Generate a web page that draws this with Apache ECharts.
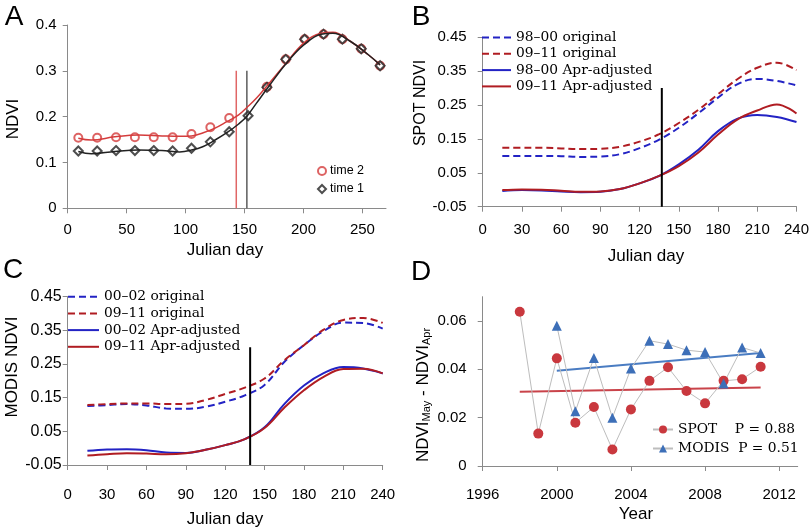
<!DOCTYPE html>
<html><head><meta charset="utf-8">
<script src="https://cdn.jsdelivr.net/npm/echarts@6/dist/echarts.min.js"></script>
<style>html,body{margin:0;padding:0;background:#fff}#c{width:812px;height:532px}</style>
</head><body><div id="c"></div>
<script>
// ---------- Panel A ----------
const aDays2 = [9,25,41,57,73,89,105,121,137,169,185,201,217,233,249,265];
const aTime2 = [0.154,0.154,0.155,0.155,0.155,0.155,0.162,0.177,0.197,0.265,0.325,0.369,0.380,0.369,0.348,0.311];
const aDays1 = [9,25,41,57,73,89,105,121,137,153,169,185,201,217,233,249,265];
const aTime1 = [0.125,0.125,0.126,0.126,0.126,0.125,0.131,0.145,0.167,0.202,0.264,0.325,0.369,0.380,0.369,0.348,0.311];
const aFitDays = [9,20,40,60,80,95,105,115,125,135,145,152,160,170,185,200,215,225,240,255,265];
const aFit2 = [0.153,0.149,0.156,0.160,0.158,0.157,0.158,0.165,0.175,0.189,0.204,0.220,0.240,0.270,0.316,0.360,0.382,0.384,0.364,0.335,0.313];
const aFit1 = [0.124,0.119,0.124,0.127,0.126,0.123,0.127,0.135,0.149,0.165,0.184,0.201,0.229,0.264,0.315,0.356,0.380,0.382,0.364,0.335,0.313];
const aVDay2 = 143, aVDay1 = 152, aVTop = 0.3;
const aXTicks = [0,50,100,150,200,250];
const aYTicks = [0,0.1,0.2,0.3,0.4];

// ---------- Panel B (SPOT) ----------
const bDays = [15,30,45,60,75,90,105,120,135,150,165,180,195,210,225,240];
const bOrig9800 = [0.100,0.100,0.100,0.099,0.097,0.098,0.105,0.123,0.148,0.183,0.226,0.272,0.312,0.327,0.321,0.308];
const bOrig0911 = [0.124,0.124,0.124,0.122,0.120,0.121,0.127,0.142,0.164,0.197,0.236,0.282,0.327,0.360,0.375,0.353];
const bAdj9800 = [-0.004,-0.001,-0.002,-0.005,-0.007,-0.006,0.002,0.019,0.041,0.075,0.118,0.173,0.210,0.221,0.215,0.200];
const bAdj0911 = [-0.001,0.001,0.000,-0.003,-0.006,-0.005,0.002,0.019,0.041,0.070,0.110,0.163,0.208,0.234,0.252,0.225];
const bVDay = 137, bVTop = 0.30;

// ---------- Panel C (MODIS) ----------
const cDays = [15,30,45,60,75,90,105,120,135,150,165,180,195,210,225,240];
const cOrig0002 = [0.125,0.128,0.131,0.127,0.118,0.117,0.123,0.138,0.157,0.188,0.256,0.306,0.348,0.373,0.372,0.355];
const cOrig0911 = [0.128,0.131,0.133,0.133,0.131,0.132,0.143,0.161,0.180,0.207,0.261,0.306,0.352,0.381,0.387,0.372];
const cAdj0002 = [-0.008,-0.004,-0.003,-0.006,-0.013,-0.014,-0.005,0.009,0.027,0.062,0.131,0.186,0.223,0.241,0.237,0.222];
const cAdj0911 = [-0.022,-0.018,-0.015,-0.016,-0.018,-0.015,-0.005,0.009,0.027,0.060,0.120,0.172,0.212,0.235,0.236,0.222];
const cVDay = 139, cVTop = 0.30;
const dayTicks = [0,30,60,90,120,150,180,210,240];
const ndviTicks = [-0.05,0.05,0.15,0.25,0.35,0.45];

// ---------- Panel D ----------
const spotYears = [1998,1999,2000,2001,2002,2003,2004,2005,2006,2007,2008,2009,2010,2011];
const spotDiff = [0.0638,0.0134,0.0445,0.0179,0.0244,0.0068,0.0234,0.0352,0.0408,0.0310,0.0259,0.0352,0.0359,0.0410];
const modisYears = [2000,2001,2002,2003,2004,2005,2006,2007,2008,2009,2010,2011];
const modisDiff = [0.0580,0.0226,0.0447,0.0200,0.0403,0.0518,0.0504,0.0479,0.0471,0.0341,0.0490,0.0467];
const spotTrend = [[1998,0.0307],[2011,0.0325]];
const modisTrend = [[2000,0.0394],[2011,0.0467]];
const spotP = 'P = 0.88', modisP = 'P = 0.51';
const yearTicks = [1996,2000,2004,2008,2012];
const diffTicks = [0,0.02,0.04,0.06];

// ---------- helpers ----------
const pair = (xs, ys) => xs.map((x, i) => [x, ys[i]]);
const FONT = 'Liberation Sans';
const SERIF = 'DejaVu Serif';
const AX = {color:'#8a8a8a', width:1};

function mkX(gridIndex, min, max, ticks, margin, fmt) {
  return {type:'value', gridIndex, min, max,
    axisLine:{show:true, onZero:false, lineStyle:AX},
    axisTick:{show:true, inside:false, length:5, customValues:ticks, lineStyle:AX},
    axisLabel:{customValues:ticks, margin, fontFamily:FONT, fontSize:15, color:'#000', formatter:fmt},
    splitLine:{show:false}};
}
function mkY(gridIndex, min, max, ticks, margin, fmt, fs) {
  return {type:'value', gridIndex, min, max,
    axisLine:{show:true, onZero:false, lineStyle:AX},
    axisTick:{show:true, inside:false, length:5, customValues:ticks, lineStyle:AX},
    axisLabel:{customValues:ticks, margin, fontFamily:FONT, fontSize:fs || 15, color:'#000', formatter:fmt},
    splitLine:{show:false}};
}
const f2 = v => v.toFixed(2);
const fA = v => (v === 0 ? '0' : v.toFixed(1));
const fD = v => (v === 0 ? '0' : v.toFixed(2));
const fInt = v => String(Math.round(v));

function curve(name, gi, xs, ys, color, dashed, width) {
  return {type:'line', name, xAxisIndex:gi, yAxisIndex:gi, data:pair(xs, ys),
    smooth:0.4, symbol:'none', silent:true,
    lineStyle:{color, width:width || 2, type: dashed ? [7,4] : 'solid'},
    itemStyle:{color}};
}
function vline(gi, x, y0, y1, color, width) {
  return {type:'line', xAxisIndex:gi, yAxisIndex:gi, data:[[x,y0],[x,y1]],
    symbol:'none', silent:true, lineStyle:{color, width}};
}

const BLUE = '#2323c4', RED = '#b01c22';
const txt = (x, y, text, fs, rot, extra) => ({type:'text', x, y, rotation: rot || 0,
  style:Object.assign({text, fontFamily:FONT, fontSize:fs, fill:'#000', align:'center', verticalAlign:'middle'}, extra || {})});

const option = {
  animation:false,
  backgroundColor:'#fff',
  grid:[
    {left:67.7, top:25, width:318.3, height:183.3},
    {left:482.7, top:37.3, width:315, height:169.4},
    {left:67.7, top:296.7, width:315, height:168.3},
    {left:482.7, top:296.7, width:315, height:169.3}
  ],
  xAxis:[
    mkX(0, 0, 270, aXTicks, 14, fInt),
    mkX(1, 0, 240, dayTicks, 16, fInt),
    mkX(2, 0, 240, dayTicks, 22, fInt),
    mkX(3, 1996, 2013, yearTicks, 21, fInt)
  ],
  yAxis:[
    mkY(0, 0, 0.4, aYTicks, 11, fA),
    mkY(1, -0.05, 0.45, ndviTicks, 16, f2),
    mkY(2, -0.05, 0.45, ndviTicks, 6, f2, 16),
    mkY(3, 0, 0.07, diffTicks, 16, fD)
  ],
  legend:[
    {left:317, top:164, orient:'vertical', padding:0, itemGap:4, itemWidth:8, itemHeight:8,
     data:['time 2','time 1'], selectedMode:false,
     textStyle:{fontFamily:FONT, fontSize:12.5, color:'#000', padding:[0,0,0,-1], lineHeight:14}},
    {left:481, top:29.5, orient:'vertical', padding:0, itemGap:0.3, itemWidth:29, itemHeight:12,
     itemStyle:{opacity:0},
     data:['98–00 original','09–11 original','98–00 Apr-adjusted','09–11 Apr-adjusted'], selectedMode:false,
     textStyle:{fontFamily:SERIF, fontSize:13.8, color:'#000', lineHeight:16}},
    {left:67, top:288.7, orient:'vertical', padding:0, itemGap:0.7, itemWidth:31, itemHeight:12,
     itemStyle:{opacity:0},
     data:['00–02 original','09–11 original','00–02 Apr-adjusted','09–11 Apr-adjusted'], selectedMode:false,
     textStyle:{fontFamily:SERIF, fontSize:13.8, color:'#000', lineHeight:16}},
    {left:652, top:421.5, orient:'vertical', padding:0, itemGap:3, itemWidth:20, itemHeight:10,
     data:['SPOT','MODIS'], selectedMode:false,
     formatter: n => n === 'SPOT' ? 'SPOT    ' + spotP : 'MODIS  ' + modisP,
     textStyle:{fontFamily:SERIF, fontSize:13.8, color:'#000', lineHeight:16}}
  ],
  series:[
    // A
    vline(0, aVDay2, 0, aVTop, '#e06666', 1.5),
    vline(0, aVDay1, 0, aVTop, '#333', 1.2),
    curve('time 2 fit', 0, aFitDays, aFit2, '#d43c3c', false, 1.5),
    curve('time 1 fit', 0, aFitDays, aFit1, '#222', false, 1.5),
    {type:'scatter', name:'time 2', xAxisIndex:0, yAxisIndex:0, data:pair(aDays2, aTime2),
     symbol:'emptyCircle', symbolSize:8, itemStyle:{color:'#d43c3c', borderColor:'#d43c3c', borderWidth:1.3}},
    {type:'scatter', name:'time 1', xAxisIndex:0, yAxisIndex:0, data:pair(aDays1, aTime1),
     symbol:'emptyDiamond', symbolSize:9, itemStyle:{color:'#222', borderColor:'#222', borderWidth:1.2}},
    // B
    curve('98–00 original', 1, bDays, bOrig9800, BLUE, true),
    curve('09–11 original', 1, bDays, bOrig0911, RED, true),
    curve('98–00 Apr-adjusted', 1, bDays, bAdj9800, BLUE, false),
    curve('09–11 Apr-adjusted', 1, bDays, bAdj0911, RED, false),
    vline(1, bVDay, -0.05, bVTop, '#000', 2),
    // C
    curve('00–02 original', 2, cDays, cOrig0002, BLUE, true),
    curve('09–11 original', 2, cDays, cOrig0911, RED, true),
    curve('00–02 Apr-adjusted', 2, cDays, cAdj0002, BLUE, false),
    curve('09–11 Apr-adjusted', 2, cDays, cAdj0911, RED, false),
    vline(2, cVDay, -0.05, cVTop, '#000', 2),
    // D
    {type:'line', name:'SPOT trend', xAxisIndex:3, yAxisIndex:3, data:spotTrend, symbol:'none', silent:true,
     lineStyle:{color:'#c9434a', width:2}, z:1},
    {type:'line', name:'MODIS trend', xAxisIndex:3, yAxisIndex:3, data:modisTrend, symbol:'none', silent:true,
     lineStyle:{color:'#4a7cc2', width:2}, z:1},
    {type:'line', name:'SPOT', xAxisIndex:3, yAxisIndex:3, data:pair(spotYears, spotDiff),
     symbol:'circle', symbolSize:10, lineStyle:{color:'#bdbdbd', width:1}, itemStyle:{color:'#c9383e'}, z:3},
    {type:'line', name:'MODIS', xAxisIndex:3, yAxisIndex:3, data:pair(modisYears, modisDiff),
     symbol:'triangle', symbolSize:10, lineStyle:{color:'#bdbdbd', width:1}, itemStyle:{color:'#3d6fb8'}, z:3}
  ],
  graphic:[
    txt(14, 17, 'A', 28), txt(421, 17, 'B', 28), txt(13, 270, 'C', 28), txt(421, 272, 'D', 28),
    txt(13, 119, 'NDVI', 17, Math.PI/2),
    txt(421, 103, 'SPOT NDVI', 16, Math.PI/2),
    txt(12, 367, 'MODIS NDVI', 17, Math.PI/2),
    {type:'text', x:423, y:395, rotation:Math.PI/2,
     style:{text:'NDVI{s|May} - NDVI{s|Apr}', fontFamily:FONT, fontSize:17, fill:'#000', align:'center', verticalAlign:'middle',
       rich:{s:{fontFamily:FONT, fontSize:11, fill:'#000', padding:[8,0,0,0]}}}},
    txt(225, 250, 'Julian day', 17),
    txt(646, 256, 'Julian day', 17),
    txt(225, 519, 'Julian day', 17),
    txt(636, 514, 'Year', 17)
  ]
};
const chart = echarts.init(document.getElementById('c'));
chart.setOption(option);
</script>
</body></html>
